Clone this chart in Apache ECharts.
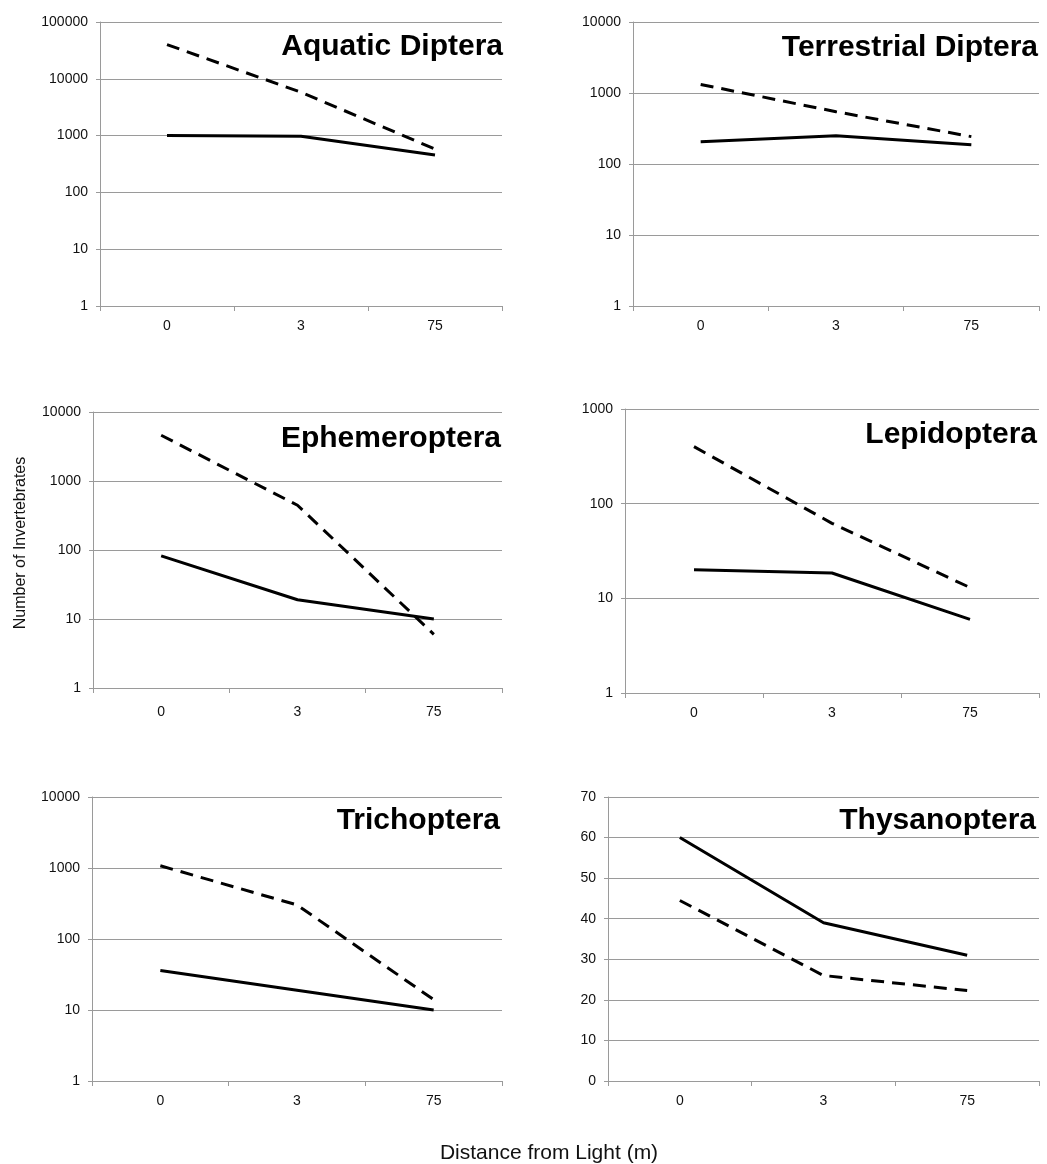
<!DOCTYPE html>
<html>
<head>
<meta charset="utf-8">
<script src="https://cdn.jsdelivr.net/npm/echarts@6/dist/echarts.min.js"></script>
<style>
  html, body { margin: 0; padding: 0; background: #fff; }
  #chart { width: 1047px; height: 1164px; }
</style>
</head>
<body>
<div id="chart"></div>
<script>
// Distance categories (m)
const distances = ['0', '3', '75'];

// Panel titles
const taxa = ['Aquatic Diptera', 'Terrestrial Diptera', 'Ephemeroptera', 'Lepidoptera', 'Trichoptera', 'Thysanoptera'];

// Solid line values per taxon
const solidAquaticDiptera = [1000, 970, 455];
const solidTerrestrialDiptera = [206, 250, 187];
const solidEphemeroptera = [82, 19, 10];
const solidLepidoptera = [20, 18.5, 6];
const solidTrichoptera = [36, 19, 10];
const solidThysanoptera = [60, 39, 31];

// Dashed line values per taxon
const dashedAquaticDiptera = [40000, 5800, 580];
const dashedTerrestrialDiptera = [1320, 545, 243];
const dashedEphemeroptera = [4600, 445, 6];
const dashedLepidoptera = [400, 62, 13];
const dashedTrichoptera = [1075, 302, 14];
const dashedThysanoptera = [44.5, 26, 22.3];

// Y-axis ranges per panel
const yMaxes = [100000, 10000, 10000, 1000, 10000, 70];
const yLog = [true, true, true, true, true, false];

const solids = [solidAquaticDiptera, solidTerrestrialDiptera, solidEphemeroptera, solidLepidoptera, solidTrichoptera, solidThysanoptera];
const dasheds = [dashedAquaticDiptera, dashedTerrestrialDiptera, dashedEphemeroptera, dashedLepidoptera, dashedTrichoptera, dashedThysanoptera];

// Plot area boxes: [left, top, right edge, bottom edge]
const boxes = [
  [100, 22, 502, 306],
  [633, 22, 1039, 306],
  [93, 412, 502, 688],
  [625, 409, 1039, 693],
  [92, 797, 502, 1081],
  [608, 797, 1039, 1081]
];
// Gap between x axis and its category labels
const xLabelMargin = [13, 13, 17, 13, 13, 13];
// Panel title anchors: right edge and cap-top line
const titleRight = [503, 1038, 501, 1037, 500, 1036];
const titleCapTop = [35, 36, 427, 423, 809, 809];
const titleSize = 30;

const grey = '#9a9a9a';
const font = 'Liberation Sans, Arial, Helvetica, sans-serif';

const grids = [], xAxes = [], yAxes = [], series = [], graphics = [];

boxes.forEach((b, i) => {
  grids.push({ left: b[0], top: b[1], width: b[2] - b[0], height: b[3] - b[1], containLabel: false });
  xAxes.push({
    type: 'category', gridIndex: i, data: distances, boundaryGap: true,
    axisLine: { show: true, lineStyle: { color: grey, width: 1 } },
    axisTick: { show: true, length: 5, lineStyle: { color: grey } },
    axisLabel: { color: '#111', fontSize: 14, fontFamily: font, margin: xLabelMargin[i] },
    splitLine: { show: false }
  });
  const y = {
    gridIndex: i, min: yLog[i] ? 1 : 0, max: yMaxes[i],
    axisLine: { show: true, lineStyle: { color: grey, width: 1 } },
    axisTick: { show: true, length: 4, lineStyle: { color: grey } },
    axisLabel: { color: '#111', fontSize: 14, fontFamily: font, margin: 12,
      formatter: v => String(Math.round(v)) },
    splitLine: { show: true, lineStyle: { color: grey, width: 1 } }
  };
  if (yLog[i]) { y.type = 'log'; y.logBase = 10; }
  else { y.type = 'value'; y.interval = 10; }
  yAxes.push(y);

  series.push({
    type: 'line', xAxisIndex: i, yAxisIndex: i, data: solids[i],
    symbol: 'none', lineStyle: { color: '#000', width: 3 }, z: 3
  });
  series.push({
    type: 'line', xAxisIndex: i, yAxisIndex: i, data: dasheds[i],
    symbol: 'none', lineStyle: { color: '#000', width: 3, type: [13, 8] }, z: 3
  });

  graphics.push({
    type: 'text', x: titleRight[i], y: titleCapTop[i] + 0.406 * titleSize, z: 10,
    style: { text: taxa[i], fontFamily: font, fontSize: titleSize, fontWeight: 'bold',
      fill: '#000', textAlign: 'right', textVerticalAlign: 'middle' }
  });
});

graphics.push({
  type: 'text', x: 21, y: 543, rotation: Math.PI / 2,
  style: { text: 'Number of Invertebrates', fontFamily: font, fontSize: 16, fill: '#111',
    textAlign: 'center', textVerticalAlign: 'middle' }
});
graphics.push({
  type: 'text', x: 549, y: 1153,
  style: { text: 'Distance from Light (m)', fontFamily: font, fontSize: 21, fill: '#111',
    textAlign: 'center', textVerticalAlign: 'middle' }
});

const chart = echarts.init(document.getElementById('chart'), null, { renderer: 'canvas' });
chart.setOption({
  backgroundColor: '#fff',
  animation: false,
  grid: grids,
  xAxis: xAxes,
  yAxis: yAxes,
  series: series,
  graphic: graphics
});
</script>
</body>
</html>
